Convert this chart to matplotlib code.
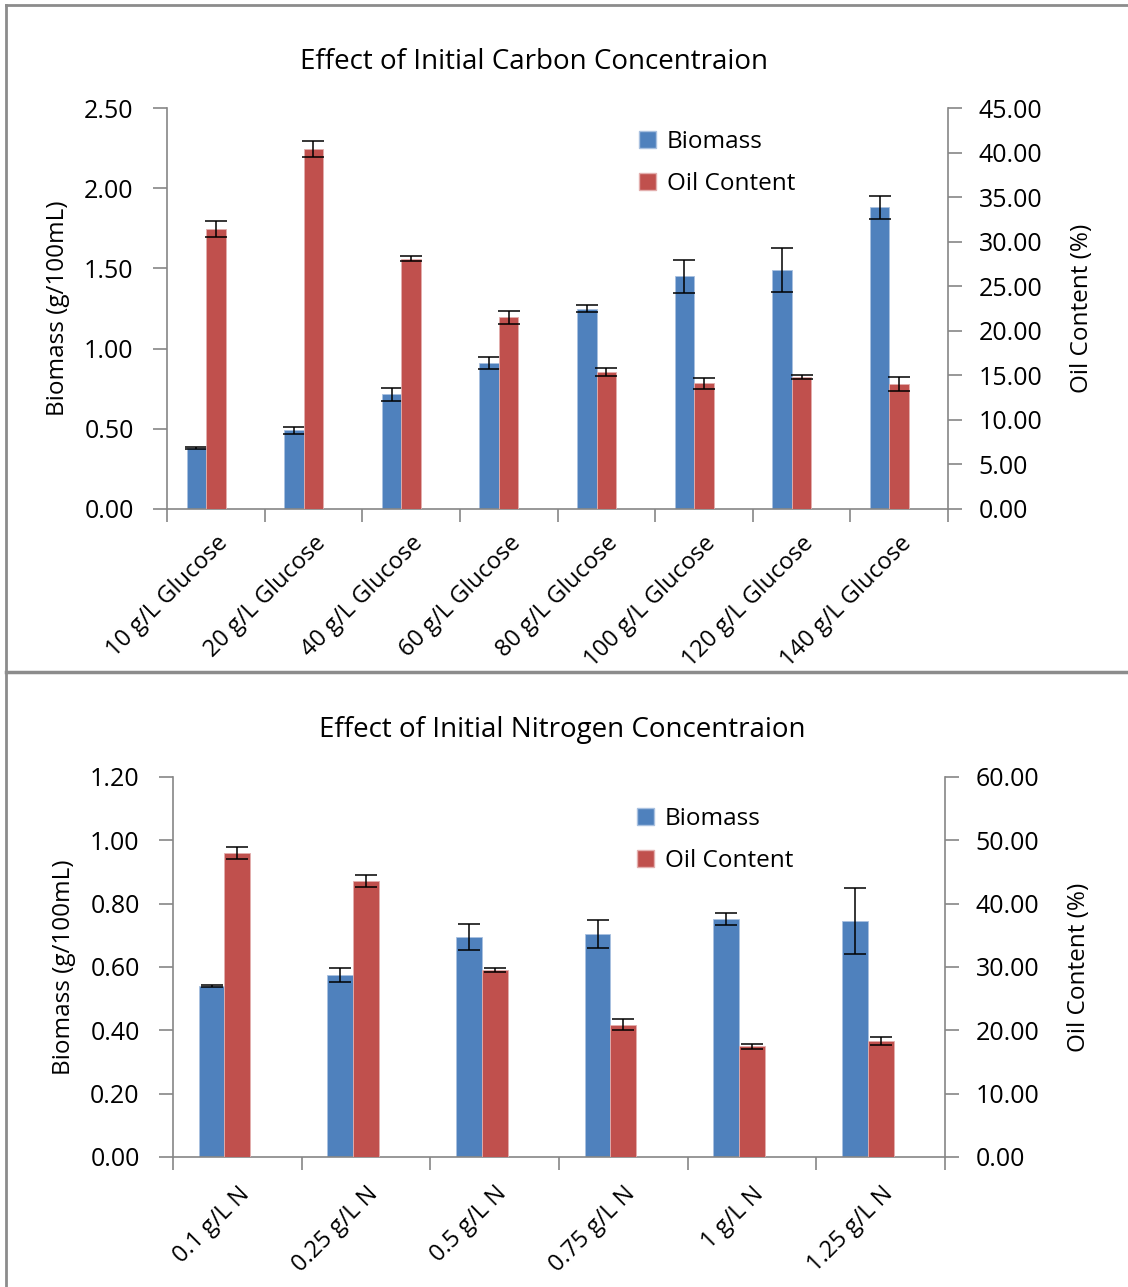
import matplotlib
matplotlib.use("Agg")
import matplotlib.pyplot as plt
from matplotlib.patches import Patch
from matplotlib.lines import Line2D
from matplotlib.ticker import FormatStrFormatter
import numpy as np

plt.rcParams['font.family'] = ['Open Sans', 'DejaVu Sans']

BLUE = '#4F81BD'
RED = '#C0504D'
GREY = '#868686'

# carbon series (top panel)
carbon_labels = ['10 g/L Glucose', '20 g/L Glucose', '40 g/L Glucose', '60 g/L Glucose',
                 '80 g/L Glucose', '100 g/L Glucose', '120 g/L Glucose', '140 g/L Glucose']
carbon_biomass = [0.38, 0.49, 0.715, 0.91, 1.25, 1.45, 1.49, 1.88]
carbon_biomass_err = [0.005, 0.02, 0.04, 0.04, 0.02, 0.105, 0.14, 0.07]
carbon_oil = [31.4, 40.4, 28.1, 21.5, 15.4, 14.1, 14.8, 14.0]
carbon_oil_err = [0.92, 0.88, 0.32, 0.75, 0.43, 0.62, 0.19, 0.80]

# nitrogen series (bottom panel)
nitrogen_labels = ['0.1 g/L N', '0.25 g/L N', '0.5 g/L N', '0.75 g/L N', '1 g/L N', '1.25 g/L N']
nitrogen_biomass = [0.54, 0.575, 0.695, 0.705, 0.752, 0.745]
nitrogen_biomass_err = [0.004, 0.021, 0.04, 0.044, 0.02, 0.103]
nitrogen_oil = [48.0, 43.6, 29.5, 20.9, 17.5, 18.3]
nitrogen_oil_err = [0.95, 0.95, 0.32, 0.87, 0.42, 0.66]


def style_axis(ax, side):
    for s in ['top', 'left', 'right', 'bottom']:
        ax.spines[s].set_visible(False)
    ax.spines[side].set_visible(True)
    ax.spines[side].set_color(GREY)
    ax.spines[side].set_linewidth(1.2)


def draw_panel(rect, title, labels, biomass, biomass_err, oil, oil_err,
               bio_max, bio_step, oil_max, oil_step, title_xy, legend_xy, rot_pad):
    ax = fig.add_axes(rect)
    ax2 = ax.twinx()
    n = len(labels)
    x = np.arange(n)
    w = 0.2
    err_kw = dict(ecolor='black', capsize=8, elinewidth=1.1, capthick=1.1)

    ax.bar(x - w, biomass, width=w, color=BLUE, edgecolor='#A9C1E0', linewidth=0.6,
           yerr=biomass_err, error_kw=err_kw, zorder=2)
    ax2.bar(x, oil, width=w, color=RED, edgecolor='#E3AFAE', linewidth=0.6,
            yerr=oil_err, error_kw=err_kw, zorder=2)

    ax.set_xlim(-0.5, n - 0.5)
    ax.set_ylim(0, bio_max)
    ax2.set_ylim(0, oil_max)
    ax.set_yticks(np.arange(0, bio_max + bio_step / 2, bio_step))
    ax2.set_yticks(np.arange(0, oil_max + oil_step / 2, oil_step))
    ax.yaxis.set_major_formatter(FormatStrFormatter('%.2f'))
    ax2.yaxis.set_major_formatter(FormatStrFormatter('%.2f'))

    # boundary ticks between categories, labels in the middle
    ax.set_xticks(np.arange(n + 1) - 0.5)
    ax.set_xticklabels([])
    ax.set_xticks(x, labels, minor=True)
    ax.tick_params(axis='x', which='major', length=9, color=GREY, width=1.2)
    ax.tick_params(axis='x', which='minor', length=0, pad=rot_pad, labelsize=17)
    for t in ax.get_xticklabels(minor=True):
        t.set_rotation(45)
        t.set_ha('right')
        t.set_va('top')
        t.set_rotation_mode('anchor')

    ax.tick_params(axis='y', length=10, color=GREY, width=1.2, pad=14, labelsize=18)
    ax2.tick_params(axis='y', length=10, color=GREY, width=1.2, pad=12, labelsize=18)

    style_axis(ax, 'left')
    ax.spines['bottom'].set_visible(True)
    ax.spines['bottom'].set_color(GREY)
    ax.spines['bottom'].set_linewidth(1.2)
    style_axis(ax2, 'right')

    ax.set_ylabel('Biomass (g/100mL)', fontsize=17.5, labelpad=10)
    ax2.set_ylabel('Oil Content (%)', fontsize=17.5, labelpad=20)

    fig.text(title_xy[0], title_xy[1], title, ha='center', va='center', fontsize=20)

    handles = [Patch(facecolor=BLUE, edgecolor='#A9C1E0'), Patch(facecolor=RED, edgecolor='#E3AFAE')]
    ax.legend(handles, ['Biomass', 'Oil Content'], loc='upper left',
              bbox_to_anchor=legend_xy, bbox_transform=fig.transFigure,
              frameon=False, fontsize=17.5, handlelength=0.7, handleheight=0.7,
              handletextpad=0.45, labelspacing=0.75, borderaxespad=0, borderpad=0)
    return ax, ax2


W, H = 1128, 1287
fig = plt.figure(figsize=(W / 100, H / 100), dpi=100)

draw_panel([167 / W, 1 - 509 / H, 781 / W, 401 / H],
           'Effect of Initial Carbon Concentraion',
           carbon_labels, carbon_biomass, carbon_biomass_err, carbon_oil, carbon_oil_err,
           2.5, 0.5, 45, 5, (534 / W, 1 - 62 / H), (639 / W, 1 - 130 / H), 16)

draw_panel([173 / W, 1 - 1157 / H, 772 / W, 380 / H],
           'Effect of Initial Nitrogen Concentraion',
           nitrogen_labels, nitrogen_biomass, nitrogen_biomass_err, nitrogen_oil, nitrogen_oil_err,
           1.2, 0.2, 60, 10, (562 / W, 1 - 730 / H), (637 / W, 1 - 807 / H), 18)

# panel frames
fig.add_artist(Line2D([6 / W, 6 / W], [0, 1 - 5 / H], color='#8c8c8c', lw=2, transform=fig.transFigure))
fig.add_artist(Line2D([6 / W, 1], [1 - 5 / H, 1 - 5 / H], color='#8c8c8c', lw=2, transform=fig.transFigure))
fig.add_artist(Line2D([6 / W, 1], [1 - 672 / H, 1 - 672 / H], color='#8c8c8c', lw=2.5, transform=fig.transFigure))

fig.savefig('out.png', dpi=100)
